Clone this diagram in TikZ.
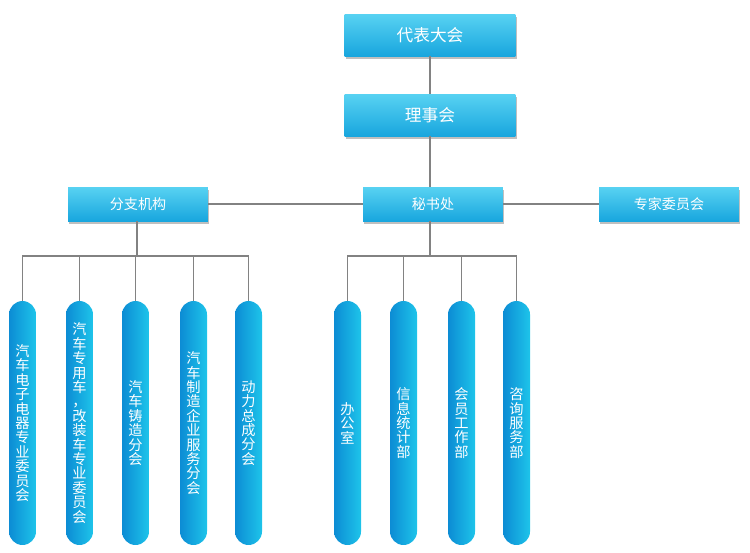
\documentclass[tikz,border=0pt]{standalone}
\usepackage{fontspec}
\newfontfamily\cjk{Noto Sans CJK SC}
\usepackage{tikz}
\usetikzlibrary{shadows}
\definecolor{boxtop}{RGB}{88,210,242}
\definecolor{boxbot}{RGB}{24,166,222}
\definecolor{pillleft}{RGB}{12,140,212}
\definecolor{pillright}{RGB}{30,196,234}
\definecolor{linkgray}{RGB}{130,130,130}
\tikzset{
    topbox/.style={draw=none,top color=boxtop,bottom color=boxbot,
        minimum width=3.42cm,minimum height=0.84cm,text=white,
        font=\cjk\fontsize{9.5}{11}\selectfont,
        drop shadow={opacity=0.5,shadow xshift=0.8pt,shadow yshift=-1.5pt}},
    midbox/.style={topbox,minimum width=2.8cm,minimum height=0.68cm,
        font=\cjk\fontsize{8}{10}\selectfont},
    pill/.style={draw=none,left color=pillleft,right color=pillright,
        rounded corners=0.27cm,minimum width=0.54cm,minimum height=4.88cm,
        inner sep=0pt,text=white,align=center,text width=0.54cm,
        font=\cjk\fontsize{8.1}{8.2}\selectfont},
    link/.style={draw=linkgray,line width=0.85pt}
}

\begin{document}
\begin{tikzpicture}[x=0.02cm,y=-0.02cm]
  \useasboundingbox (0,0) rectangle (750,552);
  % top of the chart
  \node[topbox] (dbdh) at (430,35) {代表大会};
  \node[topbox] (lsh) at (430,115) {理事会};
  \node[midbox] (msc) at (433,204) {秘书处};
  \node[midbox] (fzjg) at (138,204) {分支机构};
  \node[midbox] (zjwyh) at (669,204) {专家委员会};
  \draw[link] (dbdh) -- (lsh);
  \draw[link] (lsh.south) -- (lsh.south |- msc.north);
  \draw[link] (fzjg) -- (msc);
  \draw[link] (msc) -- (zjwyh);
  % branch bars
  \coordinate (lbar) at (137,256);
  \coordinate (rbar) at (430,256);
  \draw[link] (fzjg.south -| lbar) -- (lbar);
  \draw[link] (msc.south -| rbar) -- (rbar);
  % branch committees
  \foreach \n/\x/\t in {
      p1/22.5/{汽\\车\\电\\子\\电\\器\\专\\业\\委\\员\\会},
      p2/79.5/{汽\\车\\专\\用\\车\\，\\改\\装\\车\\专\\业\\委\\员\\会},
      p3/135.5/{汽\\车\\铸\\造\\分\\会},
      p4/193.5/{汽\\车\\制\\造\\企\\业\\服\\务\\分\\会},
      p5/248.5/{动\\力\\总\\成\\分\\会}}{
    \node[pill] (\n) at (\x,423) {\t};
    \draw[link] (\n.north) |- (lbar);
  }
  % offices
  \foreach \n/\x/\t in {
      q1/347.5/{办\\公\\室},
      q2/403.5/{信\\息\\统\\计\\部},
      q3/461.5/{会\\员\\工\\作\\部},
      q4/516.5/{咨\\询\\服\\务\\部}}{
    \node[pill] (\n) at (\x,423) {\t};
    \draw[link] (\n.north) |- (rbar);
  }
\end{tikzpicture}
\end{document}
